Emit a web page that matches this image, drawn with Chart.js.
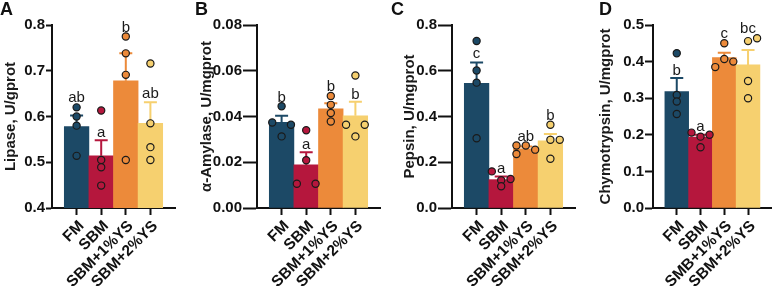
<!DOCTYPE html>
<html lang="en">
<head>
<meta charset="UTF-8">
<title>Digestive enzymes</title>
<script src="https://cdn.jsdelivr.net/npm/chart.js"></script>
<style>
  body { margin: 0; background: #fff; }
  #wrap { position: relative; width: 777px; height: 289px; overflow: hidden; }
  canvas { position: absolute; top: 0; }
  .tag { position: absolute; top: 0; font: bold 18px/18px "Liberation Sans", Arial, sans-serif; color: #111; }
</style>
</head>
<body>
<div id="wrap">
  <canvas id="chartA" width="185" height="289" style="left:0px"></canvas>
  <canvas id="chartB" width="194" height="289" style="left:196px"></canvas>
  <canvas id="chartC" width="186" height="289" style="left:399px"></canvas>
  <canvas id="chartD" width="182" height="289" style="left:595px"></canvas>
  <div class="tag" style="left:0px">A</div>
  <div class="tag" style="left:195px">B</div>
  <div class="tag" style="left:391px">C</div>
  <div class="tag" style="left:599px">D</div>
</div>

<script>
  const groups = ['FM', 'SBM', 'SBM+1%YS', 'SBM+2%YS'];
  const groupsD = ['FM', 'SBM', 'SMB+1%YS', 'SBM+2%YS'];
  const colors = ['#1c4966', '#b5173d', '#ec8a3a', '#f6d06f'];

  // A - lipase
  const lipaseMean = [0.578, 0.514, 0.678, 0.585];
  const lipaseSem = [0.024, 0.034, 0.060, 0.046];
  const lipasePoints = [[0.620, 0.600, 0.580, 0.514], [0.613, 0.505, 0.489, 0.449], [0.775, 0.738, 0.691, 0.505], [0.716, 0.585, 0.533, 0.505]];
  const lipaseSpread = [[0, 0, 0, 0], [0, 0, 0, 0], [0, 0, 0, 0], [0, 0, 0, 0]];
  const lipaseLetters = ['ab', 'a', 'b', 'ab'];
  const lipaseLetterY = [0.631, 0.555, 0.785, 0.640];

  // B - alpha-amylase
  const amylaseMean = [0.0374, 0.0189, 0.0433, 0.0403];
  const amylaseSem = [0.0029, 0.0055, 0.0025, 0.0062];
  const amylasePoints = [[0.0445, 0.0374, 0.0364, 0.0313], [0.0340, 0.0209, 0.0106, 0.0106], [0.0490, 0.0451, 0.0415, 0.0378], [0.0579, 0.0364, 0.0364, 0.0313]];
  const amylaseSpread = [[0, -1, 1, 0], [0, 0, -1, 1], [0, 0, 0, 0], [0, -1, 1, 0]];
  const amylaseLetters = ['b', 'a', 'b', 'b'];
  const amylaseLetterY = [0.0463, 0.0259, 0.0512, 0.0476];

  // C - pepsin
  const pepsinMean = [0.545, 0.124, 0.259, 0.294];
  const pepsinSem = [0.091, 0.014, 0.010, 0.030];
  const pepsinPoints = [[0.730, 0.601, 0.548, 0.305], [0.160, 0.127, 0.121, 0.095], [0.273, 0.273, 0.255, 0.236], [0.364, 0.298, 0.298, 0.215]];
  const pepsinSpread = [[0, 0, 0, 0], [-1, 1, 0, 0], [-1, 0, 1, -1], [0, 0, 1, 0]];
  const pepsinLetters = ['c', 'a', 'ab', 'b'];
  const pepsinLetterY = [0.657, 0.153, 0.294, 0.385];

  // D - chymotrypsin
  const chymoMean = [0.318, 0.194, 0.411, 0.391];
  const chymoSem = [0.037, 0.006, 0.0135, 0.041];
  const chymoPoints = [[0.423, 0.309, 0.291, 0.257], [0.206, 0.200, 0.195, 0.166], [0.450, 0.407, 0.400, 0.385], [0.456, 0.464, 0.347, 0.300]];
  const chymoSpread = [[0, 0, 0, 0], [-1, 1, 0, 0], [0, 0, 1, -1], [0, 1, 0, 0]];
  const chymoLetters = ['b', 'a', 'c', 'bc'];
  const chymoLetterY = [0.364, 0.211, 0.465, 0.477];

  const FONT = '"Liberation Sans", Arial, sans-serif';
  const INK = '#111';

  // error bars (mean -> mean + sem, with a cap) and the significance letters
  const extras = {
    id: 'extras',
    afterDatasetDraw(chart, args, opts) {
      if (args.index !== 1) return;
      const { ctx, scales: { x, y } } = chart;
      ctx.save();
      ctx.lineWidth = 2;
      opts.mean.forEach((m, i) => {
        const px = x.getPixelForValue(i);
        const y0 = y.getPixelForValue(m);
        const y1 = y.getPixelForValue(m + opts.sem[i]);
        ctx.strokeStyle = colors[i];
        ctx.beginPath();
        ctx.moveTo(px, y0);
        ctx.lineTo(px, y1);
        ctx.moveTo(px - 6.5, y1);
        ctx.lineTo(px + 6.5, y1);
        ctx.stroke();
      });
      ctx.restore();
    },
    afterDatasetsDraw(chart, args, opts) {
      const { ctx, scales: { x, y } } = chart;
      ctx.save();
      ctx.font = '15px ' + FONT;
      ctx.fillStyle = '#1a1a1a';
      ctx.textAlign = 'center';
      ctx.textBaseline = 'alphabetic';
      opts.letters.forEach((t, i) => {
        ctx.fillText(t, x.getPixelForValue(i), y.getPixelForValue(opts.letterY[i]));
      });
      ctx.restore();
    }
  };

  function makePanel(id, p) {
    const pts = [];
    p.points.forEach((arr, g) => arr.forEach((v, k) => pts.push({ x: g + p.spread[g][k] * 0.38, y: v, g: g })));

    new Chart(document.getElementById(id), {
      type: 'bar',
      data: {
        datasets: [
          {
            type: 'scatter',
            data: pts,
            order: 1,
            pointRadius: 3.6,
            borderWidth: 1.2,
            borderColor: '#1a1a1a',
            backgroundColor: c => colors[c.raw ? c.raw.g : 0]
          },
          {
            type: 'bar',
            data: p.mean.map((v, i) => ({ x: i, y: v })),
            order: 2,
            backgroundColor: colors,
            borderWidth: 0,
            categoryPercentage: 1,
            barPercentage: 1
          }
        ]
      },
      options: {
        responsive: false,
        animation: false,
        layout: { padding: { top: 25, right: p.padRight, bottom: 0, left: 0 } },
        plugins: {
          legend: { display: false },
          tooltip: { enabled: false },
          extras: { mean: p.mean, sem: p.sem, letters: p.letters, letterY: p.letterY }
        },
        scales: {
          x: {
            type: 'linear',
            min: -1,
            max: 4,
            offset: false,
            afterBuildTicks: s => { s.ticks = [0, 1, 2, 3].map(v => ({ value: v })); },
            afterFit: s => { s.height = 81; },
            grid: { display: true, drawOnChartArea: false, offset: false, tickLength: 7, tickWidth: 2, tickColor: INK },
            border: { display: true, color: INK, width: 2 },
            ticks: {
              autoSkip: false,
              minRotation: 45,
              maxRotation: 45,
              padding: 2,
              labelOffset: 5,
              color: INK,
              font: { family: FONT, size: 15.5, weight: 'bold' },
              callback: v => p.labels[v]
            }
          },
          y: {
            min: p.min,
            max: p.max,
            afterFit: s => { s.width = p.axisWidth; },
            grid: { display: true, drawOnChartArea: false, tickLength: p.tickLen, tickWidth: 2, tickColor: INK },
            border: { display: true, color: INK, width: 2 },
            ticks: {
              stepSize: p.step,
              padding: 1,
              color: INK,
              font: { family: FONT, size: 15, weight: 'bold' },
              callback: v => Number(v).toFixed(p.dec)
            },
            title: {
              display: true,
              text: p.title,
              color: '#1a1a1a',
              padding: { top: 2, bottom: 0 },
              font: { family: FONT, size: 15, weight: 'bold' }
            }
          }
        }
      },
      plugins: [extras]
    });
  }

  makePanel('chartA', {
    mean: lipaseMean, sem: lipaseSem, points: lipasePoints, spread: lipaseSpread,
    letters: lipaseLetters, letterY: lipaseLetterY, labels: groups,
    title: 'Lipase, U/gprot', min: 0.4, max: 0.8, step: 0.1, dec: 1,
    axisWidth: 52, tickLen: 6, padRight: 10
  });
  makePanel('chartB', {
    mean: amylaseMean, sem: amylaseSem, points: amylasePoints, spread: amylaseSpread,
    letters: amylaseLetters, letterY: amylaseLetterY, labels: groups,
    title: 'α-Amylase, U/mgprot', min: 0, max: 0.08, step: 0.02, dec: 2,
    axisWidth: 61, tickLen: 14, padRight: 10
  });
  makePanel('chartC', {
    mean: pepsinMean, sem: pepsinSem, points: pepsinPoints, spread: pepsinSpread,
    letters: pepsinLetters, letterY: pepsinLetterY, labels: groups,
    title: 'Pepsin, U/mgprot', min: 0, max: 0.8, step: 0.2, dec: 1,
    axisWidth: 53, tickLen: 14, padRight: 10
  });
  makePanel('chartD', {
    mean: chymoMean, sem: chymoSem, points: chymoPoints, spread: chymoSpread,
    letters: chymoLetters, letterY: chymoLetterY, labels: groupsD,
    title: 'Chymotrypsin, U/mgprot', min: 0, max: 0.5, step: 0.1, dec: 1,
    axisWidth: 58, tickLen: 8, padRight: 2
  });
</script>
</body>
</html>
